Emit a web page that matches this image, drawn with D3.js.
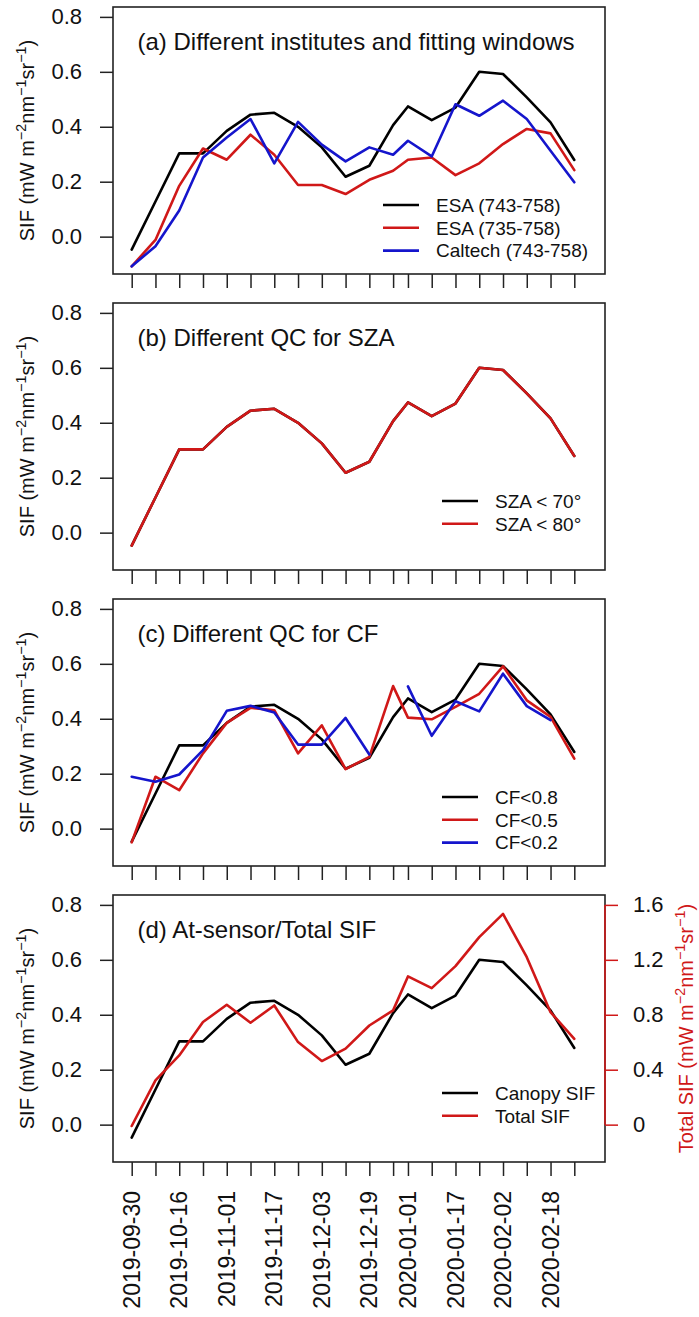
<!DOCTYPE html>
<html><head><meta charset="utf-8">
<script src="https://cdn.jsdelivr.net/npm/d3@7"></script>
<style>body{margin:0;background:#fff;} text{font-family:"Liberation Sans",Arial,Helvetica,sans-serif;fill:#111;}</style>
</head><body><svg id="c" width="699" height="1317"></svg>
<script>
// ---- data ----
const dates = ["2019-09-30","2019-10-08","2019-10-16","2019-10-24","2019-11-01","2019-11-09","2019-11-17","2019-11-25",
  "2019-12-03","2019-12-11","2019-12-19","2019-12-27","2020-01-01","2020-01-09","2020-01-17","2020-01-25",
  "2020-02-02","2020-02-10","2020-02-18","2020-02-26"];
const labelDates = ["2019-09-30","2019-10-16","2019-11-01","2019-11-17","2019-12-03","2019-12-19","2020-01-01","2020-01-17","2020-02-02","2020-02-18"];
const yTicks = [0, 0.2, 0.4, 0.6, 0.8];
const yTicksRight = [0, 0.4, 0.8, 1.2, 1.6];

const esa743_758 = [-0.047,0.128,0.303,0.303,0.385,0.444,0.451,0.40,0.325,0.218,0.258,0.406,0.474,0.424,0.47,0.60,0.592,0.507,0.416,0.279];
const esa735_758 = [-0.108,-0.012,0.185,0.321,0.28,0.371,0.298,0.188,0.188,0.155,0.207,0.24,0.28,0.288,0.224,0.267,0.337,0.392,0.376,0.242];
const caltech743_758 = [-0.108,-0.035,0.095,0.288,0.361,0.428,0.267,0.418,0.335,0.274,0.325,0.298,0.349,0.292,0.482,0.44,0.495,0.428,0.313,0.198];
const sza70 = [-0.047,0.128,0.303,0.303,0.385,0.444,0.451,0.40,0.325,0.218,0.258,0.406,0.474,0.424,0.47,0.60,0.592,0.507,0.416,0.279];
const sza80 = [-0.047,0.128,0.303,0.303,0.385,0.444,0.451,0.40,0.325,0.218,0.258,0.406,0.474,0.424,0.47,0.60,0.592,0.507,0.416,0.279];
const cf08 = [-0.047,0.128,0.303,0.303,0.385,0.444,0.451,0.40,0.325,0.218,0.258,0.406,0.474,0.424,0.47,0.60,0.592,0.507,0.416,0.279];
const cf05 = [-0.05,0.189,0.14,0.274,0.385,0.44,0.431,0.274,0.376,0.217,0.261,0.519,0.404,0.398,0.443,0.491,0.591,0.467,0.407,0.255];
const cf02 = [0.189,0.171,0.197,0.286,0.429,0.447,0.423,0.306,0.306,0.403,0.27,null,0.518,0.338,0.464,0.427,0.564,0.446,0.395,null];
const canopySIF = [-0.047,0.128,0.303,0.303,0.385,0.444,0.451,0.40,0.325,0.218,0.258,0.406,0.474,0.424,0.47,0.60,0.592,0.507,0.416,0.279];
const totalSIF = [-0.01,0.322,0.504,0.747,0.873,0.742,0.868,0.601,0.463,0.553,0.722,0.832,1.079,0.994,1.154,1.365,1.535,1.219,0.819,0.625];

// ---- layout ----
const RED = "#d01818", BLUE = "#1515cc", BLACK = "#000";
const parse = d3.timeParse("%Y-%m-%d");
const svg = d3.select("#c");
const boxL = 113, boxR = 605, panelH = 267;
const panelTops = [7, 303, 599, 895];
const x = d3.scaleTime().domain([parse(dates[0]), parse(dates[dates.length-1])]).range([131.7, 574.3]);

const panels = [
  {title:"(a) Different institutes and fitting windows", legendX:383, series:[
    {name:"ESA (743-758)", values:esa743_758, color:BLACK},
    {name:"ESA (735-758)", values:esa735_758, color:RED},
    {name:"Caltech (743-758)", values:caltech743_758, color:BLUE}]},
  {title:"(b) Different QC for SZA", legendX:442, series:[
    {name:"SZA < 70°", values:sza70, color:BLACK},
    {name:"SZA < 80°", values:sza80, color:RED}]},
  {title:"(c) Different QC for CF", legendX:442, series:[
    {name:"CF<0.8", values:cf08, color:BLACK},
    {name:"CF<0.5", values:cf05, color:RED},
    {name:"CF<0.2", values:cf02, color:BLUE}]},
  {title:"(d) At-sensor/Total SIF", legendX:442, right:true, series:[
    {name:"Canopy SIF", values:canopySIF, color:BLACK},
    {name:"Total SIF", values:totalSIF, color:RED, rightAxis:true}]}
];

function unitLabel(sel, prefix, fs) {
  const sfs = fs*0.72, up = fs*0.42;
  sel.append("tspan").text(prefix + "(mW m");
  sel.append("tspan").attr("font-size", sfs).attr("dy", -up).text("−2");
  sel.append("tspan").attr("dy", up).text("nm");
  sel.append("tspan").attr("font-size", sfs).attr("dy", -up).text("−1");
  sel.append("tspan").attr("dy", up).text("sr");
  sel.append("tspan").attr("font-size", sfs).attr("dy", -up).text("−1");
  sel.append("tspan").attr("dy", up).text(")");
}

panels.forEach((p, pi) => {
  const top = panelTops[pi], bottom = top + panelH;
  const g = svg.append("g");
  const y = d3.scaleLinear().domain([-0.136, 0.836]).range([bottom, top]);
  const yR = d3.scaleLinear().domain([-0.272, 1.672]).range([bottom, top]);

  // lines
  p.series.forEach(s => {
    const sc = s.rightAxis ? yR : y;
    const line = d3.line().defined(d => d != null)
      .x((d, i) => x(parse(dates[i]))).y(d => sc(d));
    g.append("path").datum(s.values).attr("d", line)
      .attr("fill", "none").attr("stroke", s.color).attr("stroke-width", 2.6)
      .attr("stroke-linejoin", "round").attr("stroke-linecap", "round");
  });

  // box
  g.append("rect").attr("x", boxL).attr("y", top).attr("width", boxR - boxL).attr("height", panelH)
    .attr("fill", "none").attr("stroke", "#222").attr("stroke-width", 1.6);

  // left axis
  const ax = g.append("g").attr("transform", `translate(${boxL},0)`)
    .call(d3.axisLeft(y).tickValues(yTicks).tickFormat(d3.format(".1f")).tickSize(13).tickPadding(18));
  ax.select(".domain").remove();
  ax.selectAll("line").attr("stroke", "#222").attr("stroke-width", 1.5);
  ax.selectAll("text").attr("font-size", 22).attr("fill", "#111").attr("font-family", '"Liberation Sans",Arial,sans-serif');

  // x axis
  const xa = g.append("g").attr("transform", `translate(0,${bottom})`)
    .call(d3.axisBottom(x).tickValues(dates.map(parse)).tickSize(14).tickFormat(""));
  xa.select(".domain").remove();
  xa.selectAll("line").attr("stroke", "#222").attr("stroke-width", 1.5);

  // y title
  const yt = g.append("text").attr("font-size", 20).attr("text-anchor", "middle")
    .attr("transform", `translate(34,${(top + bottom) / 2}) rotate(-90)`);
  unitLabel(yt, "SIF ", 20);

  // panel title
  g.append("text").attr("x", 137.5).attr("y", top + 43).attr("font-size", 24).text(p.title);

  // legend
  p.series.forEach((s, k) => {
    const ly = top + 198 + k * 22.8;
    g.append("line").attr("x1", p.legendX).attr("x2", p.legendX + 36).attr("y1", ly).attr("y2", ly)
      .attr("stroke", s.color).attr("stroke-width", 2.6);
    g.append("text").attr("x", p.legendX + 53).attr("y", ly).attr("dy", "0.36em")
      .attr("font-size", 19).text(s.name);
  });

  // right axis
  if (p.right) {
    const ar = g.append("g").attr("transform", `translate(${boxR},0)`)
      .call(d3.axisRight(yR).tickValues(yTicksRight).tickFormat(d => d === 0 ? "0" : d3.format(".1f")(d)).tickSize(13).tickPadding(15));
    ar.select(".domain").remove();
    ar.selectAll("line").attr("stroke", RED).attr("stroke-width", 1.5);
    ar.selectAll("text").attr("font-size", 22).attr("fill", RED).attr("font-family", '"Liberation Sans",Arial,sans-serif');
    g.append("line").attr("x1", boxR).attr("x2", boxR).attr("y1", yR(0)).attr("y2", yR(1.6))
      .attr("stroke", RED).attr("stroke-width", 1.6);
    const rt = g.append("text").attr("font-size", 20).attr("text-anchor", "middle").attr("fill", RED)
      .attr("transform", `translate(693,${(top + bottom) / 2}) rotate(-90)`);
    unitLabel(rt, "Total SIF ", 20);
    rt.selectAll("tspan").attr("fill", RED);
  }

  // date labels on last panel
  if (pi === panels.length - 1) {
    g.selectAll("text.date").data(labelDates).enter().append("text").attr("class", "date")
      .attr("font-size", 23).attr("text-anchor", "end").attr("dy", "0.35em")
      .attr("transform", d => `translate(${x(parse(d))},${bottom + 29}) rotate(-90)`)
      .text(d => d);
  }
});
</script></body></html>
